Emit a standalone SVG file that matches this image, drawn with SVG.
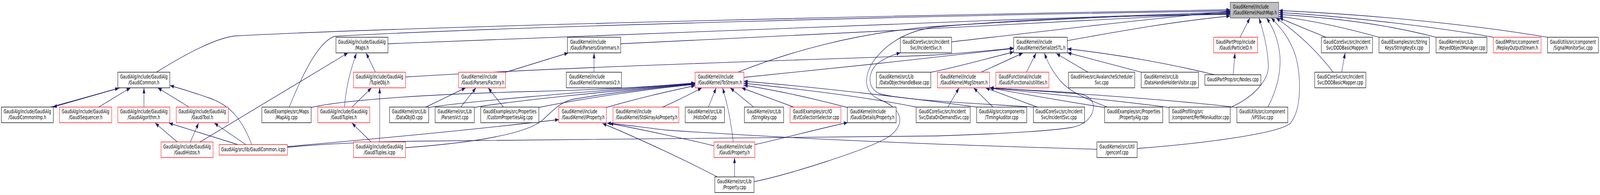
<svg xmlns="http://www.w3.org/2000/svg" width="6001" height="499" viewBox="0 0 6001 499" preserveAspectRatio="none" style="width:100vw;height:100vh;display:block">
<defs>
<style>
.n rect{fill:#fff;stroke:#000;stroke-width:1.33}
.n.r rect{stroke:#f00}
.n.root rect{fill:#bfbfbf;stroke:#404040}
.n text{font-family:"DejaVu Sans","Liberation Sans",sans-serif;font-size:13.33px;fill:#000}
.n.c text{text-anchor:middle}
.e path{fill:none;stroke:#191970;stroke-width:1.33;marker-end:url(#a)}
</style>
<marker id="a" markerUnits="userSpaceOnUse" markerWidth="16" markerHeight="12" refX="14" refY="5" orient="auto" overflow="visible">
<path d="M0,0 L14,5 L0,10 z" fill="#191970"/>
</marker>
</defs>
<rect width="6001" height="499" fill="#fff"/>
<g id="edges" class="e">
<path d="M190,274 L446,225.5"/>
<path d="M451,224.67 L199,274"/>
<path d="M370,274 L489,225"/>
<path d="M540,274 L540,224.7"/>
<path d="M709,274 L592,225"/>
<path d="M587,184.67 C720,128 820,97 880,92 C1600,66 3600,36 4614,25"/>
<path d="M1085,274 C1140,180 1200,105 1255,93 C1900,68 3600,38 4614,28"/>
<path d="M1455,112 C2200,95 3500,55 4614,31"/>
<path d="M665,363.33 L582,315"/>
<path d="M714,363.33 L745,315"/>
<path d="M750,363.33 L1305,135.5"/>
<path d="M944,370 C905,300 860,270 790,252 C740,240 690,229 638,219"/>
<path d="M892,370 L634,315"/>
<path d="M922,370 L804,315"/>
<path d="M1078,375 C1500,350 1800,330 2096,306"/>
<path d="M1292,274 C1297,225 1312,185 1337,136"/>
<path d="M1320,274 L1393,225"/>
<path d="M1408,184.67 L1373,135.5"/>
<path d="M1392,363.33 L1320,315"/>
<path d="M1424,363.33 L1424,224.67"/>
<path d="M1078,377 C1250,366 1450,362 1600,361 C2500,360 3100,355 3500,348 C3800,342 3960,333 4020,326 C4085,318 4110,285 4098,262 C4085,243 4050,238 4000,236 C3900,232 3800,228 3713,225"/>
<path d="M1521,378 C1760,366 1960,345 2030,310 C2068,288 2095,262 2150,254 C2300,236 2460,224 2607,215"/>
<path d="M1167,275 C1300,254 1650,240 2000,234 C2300,229 2480,220 2607,212"/>
<path d="M1597,274 L1746,225"/>
<path d="M1608,275 C1800,255 2300,230 2607,213.5"/>
<path d="M1728,274 L1785,225"/>
<path d="M1779,275 C1900,260 2300,232 2607,214.5"/>
<path d="M1888,274 L1831,225"/>
<path d="M2021,275 C2200,250 2450,226 2607,216"/>
<path d="M1896,185 L2131,135.5"/>
<path d="M2228,184.67 L2228,135.33"/>
<path d="M2328,112 C3000,96 4000,50 4614,33"/>
<path d="M1521,197 C2200,168 3200,150 3500,141 C3650,134 3730,128 3802,123"/>
<path d="M2274,275 C2400,250 2500,235 2607,219"/>
<path d="M2485,274 C2540,258 2590,240 2632,225"/>
<path d="M2657,274 L2686,225"/>
<path d="M2750,363.33 C2742,310 2728,265 2710,225"/>
<path d="M2827,274 L2739,225"/>
<path d="M2977,274 L2782,225"/>
<path d="M3178,275 C3050,252 2920,232 2790,218"/>
<path d="M3436,274 C3250,248 3000,228 2790,213"/>
<path d="M3663,274 C3450,254 3050,222 2790,208"/>
<path d="M2768,184.67 C2950,135 3200,85 3500,68 C3900,50 4300,38 4614,35"/>
<path d="M2790,198 C3100,178 3500,147 3802,124"/>
<path d="M3491,185 C3600,170 3700,150 3802,133"/>
<path d="M3680,184.67 L3836,136"/>
<path d="M3850,184.67 L3886,136"/>
<path d="M4153,274 C4080,255 4010,235 3975,205 C3945,180 3930,160 3917,136"/>
<path d="M4080,184.67 L3962,137"/>
<path d="M4280,184.67 L4004,135"/>
<path d="M4555,191.33 C4400,165 4200,140 4004,125"/>
<path d="M4003,104 C4200,80 4400,55 4614,41"/>
<path d="M3569,107 C3800,90 4200,55 4614,29"/>
<path d="M3876,274 C3700,266 3400,258 3300,240 C3250,226 3255,185 3290,163 C3320,148 3350,140 3377,135"/>
<path d="M2828,465 C2950,448 3250,385 3333,350 C3400,318 3385,278 3300,255 C3235,237 3238,190 3283,150 C3330,110 3400,80 3500,70 C3800,50 4200,40 4614,37"/>
<path d="M2755,452.67 L2755,403.33"/>
<path d="M2690,452.67 C2600,420 2400,355 2260,316"/>
<path d="M2678,373 C2600,360 2400,330 2286,316"/>
<path d="M2831,370 C2950,352 3050,333 3179,313.5"/>
<path d="M4114,382 C3500,370 3000,356 2500,333 C2400,325 2330,318 2277,315"/>
<path d="M4265,380 C4500,368 4800,342 4840,315 C4882,280 4880,200 4862,150 C4842,100 4800,68 4768,46"/>
<path d="M3555,274 L3597,225"/>
<path d="M3724,274 L3652,225"/>
<path d="M3890,274 L3697,225"/>
<path d="M4143,275 C4000,260 3850,242 3712,225"/>
<path d="M4385,275 C4200,258 3900,238 3712,225"/>
<path d="M4639,275 C4400,255 4000,238 3712,224.7"/>
<path d="M4614,275 C4700,250 4760,205 4757,167 C4754,120 4738,80 4722,46"/>
<path d="M4755,274 C4790,230 4806,180 4800,140 C4794,100 4775,70 4750,46"/>
<path d="M4651,95.33 L4688,46"/>
<path d="M4625,191.33 L4632,135.33"/>
<path d="M5000,184.67 C4950,140 4880,90 4786,46"/>
<path d="M5032,184.67 L5045,135.33"/>
<path d="M4973,95.33 L4798,46"/>
<path d="M5172,95.33 C5050,72 4920,52 4797,42"/>
<path d="M5386,95.33 C5200,62 5000,45 4797,37"/>
<path d="M5601,95.33 C5400,70 5050,42 4797,32"/>
<path d="M5804,95.33 C5500,60 5100,36 4797,27"/>
</g>
<g id="n_hashmap" class="n root"><rect x="4614" y="6" width="182" height="40"/><text x="4624.7" y="22.4">GaudiKernel/include</text><text x="4624.7" y="37.4">/GaudiKernel/HashMap.h</text></g>
<g id="n_maps" class="n c"><rect x="1260" y="95.33" width="195" height="40"/><text x="1357.5" y="111.7">GaudiAlg/include/GaudiAlg</text><text x="1357.5" y="126.7">/Maps.h</text></g>
<g id="n_grammars" class="n"><rect x="2128" y="95.33" width="200" height="40"/><text x="2138.7" y="111.7">GaudiKernel/include</text><text x="2138.7" y="126.7">/Gaudi/Parsers/Grammars.h</text></g>
<g id="n_incsvch" class="n c"><rect x="3377" y="95.33" width="192" height="40"/><text x="3473" y="111.7">GaudiCoreSvc/src/Incident</text><text x="3473" y="126.7">Svc/IncidentSvc.h</text></g>
<g id="n_serial" class="n"><rect x="3802" y="95.33" width="201" height="40"/><text x="3812.7" y="111.7">GaudiKernel/include</text><text x="3812.7" y="126.7">/GaudiKernel/SerializeSTL.h</text></g>
<g id="n_pid" class="n c r"><rect x="4552" y="95.33" width="165" height="40"/><text x="4634.5" y="111.7">GaudiPartProp/include</text><text x="4634.5" y="126.7">/Gaudi/ParticleID.h</text></g>
<g id="n_dodh" class="n c"><rect x="4956" y="95.33" width="192" height="40"/><text x="5052" y="111.7">GaudiCoreSvc/src/Incident</text><text x="5052" y="126.7">Svc/DODBasicMapper.h</text></g>
<g id="n_skex" class="n c"><rect x="5172" y="95.33" width="189" height="40"/><text x="5266.5" y="111.7">GaudiExamples/src/String</text><text x="5266.5" y="126.7">Keys/StringKeyEx.cpp</text></g>
<g id="n_kom" class="n"><rect x="5386" y="95.33" width="191" height="40"/><text x="5396.7" y="111.7">GaudiKernel/src/Lib</text><text x="5396.7" y="126.7">/KeyedObjectManager.cpp</text></g>
<g id="n_replay" class="n c r"><rect x="5601" y="95.33" width="179" height="40"/><text x="5690.5" y="111.7">GaudiMP/src/component</text><text x="5690.5" y="126.7">/ReplayOutputStream.h</text></g>
<g id="n_signal" class="n c"><rect x="5804" y="95.33" width="191" height="40"/><text x="5899.5" y="111.7">GaudiUtils/src/component</text><text x="5899.5" y="126.7">/SignalMonitorSvc.cpp</text></g>
<g id="n_gc" class="n c"><rect x="442" y="184.67" width="195" height="40"/><text x="539.5" y="201.1">GaudiAlg/include/GaudiAlg</text><text x="539.5" y="216.1">/GaudiCommon.h</text></g>
<g id="n_tupleobj" class="n c r"><rect x="1326" y="184.67" width="195" height="40"/><text x="1423.5" y="201.1">GaudiAlg/include/GaudiAlg</text><text x="1423.5" y="216.1">/TupleObj.h</text></g>
<g id="n_factory" class="n r"><rect x="1720" y="184.67" width="176" height="40"/><text x="1730.7" y="201.1">GaudiKernel/include</text><text x="1730.7" y="216.1">/Gaudi/Parsers/Factory.h</text></g>
<g id="n_gv2" class="n"><rect x="2124" y="184.67" width="207" height="40"/><text x="2134.7" y="201.1">GaudiKernel/include</text><text x="2134.7" y="216.1">/GaudiKernel/GrammarsV2.h</text></g>
<g id="n_tostream" class="n r"><rect x="2607" y="184.67" width="183" height="40"/><text x="2617.7" y="201.1">GaudiKernel/include</text><text x="2617.7" y="216.1">/GaudiKernel/ToStream.h</text></g>
<g id="n_dohb" class="n"><rect x="3287" y="184.67" width="204" height="40"/><text x="3297.7" y="201.1">GaudiKernel/src/Lib</text><text x="3297.7" y="216.1">/DataObjectHandleBase.cpp</text></g>
<g id="n_msg" class="n r"><rect x="3516" y="184.67" width="195" height="40"/><text x="3526.7" y="201.1">GaudiKernel/include</text><text x="3526.7" y="216.1">/GaudiKernel/MsgStream.h</text></g>
<g id="n_util" class="n r"><rect x="3735" y="184.67" width="199" height="40"/><text x="3745.7" y="201.1">GaudiFunctional/include</text><text x="3745.7" y="216.1">/Gaudi/Functional/utilities.h</text></g>
<g id="n_aval" class="n c"><rect x="4008" y="184.67" width="248" height="40"/><text x="4132" y="201.1">GaudiHive/src/AvalancheScheduler</text><text x="4132" y="216.1">Svc.cpp</text></g>
<g id="n_dhhv" class="n"><rect x="4280" y="184.67" width="215" height="40"/><text x="4290.7" y="201.1">GaudiKernel/src/Lib</text><text x="4290.7" y="216.1">/DataHandleHolderVisitor.cpp</text></g>
<g id="n_nodes" class="n c"><rect x="4519" y="191.33" width="210" height="26.67"/><text x="4624" y="208.3">GaudiPartProp/src/Nodes.cpp</text></g>
<g id="n_dodcpp" class="n c"><rect x="4931" y="184.67" width="192" height="40"/><text x="5027" y="201.1">GaudiCoreSvc/src/Incident</text><text x="5027" y="216.1">Svc/DODBasicMapper.cpp</text></g>
<g id="n_gcimp" class="n c"><rect x="5" y="274" width="195" height="40"/><text x="102.5" y="290.4">GaudiAlg/include/GaudiAlg</text><text x="102.5" y="305.4">/GaudiCommonImp.h</text></g>
<g id="n_gseq" class="n c r"><rect x="223" y="274" width="196" height="40"/><text x="321" y="290.4">GaudiAlg/include/GaudiAlg</text><text x="321" y="305.4">/GaudiSequencer.h</text></g>
<g id="n_galg" class="n c r"><rect x="442" y="274" width="195" height="40"/><text x="539.5" y="290.4">GaudiAlg/include/GaudiAlg</text><text x="539.5" y="305.4">/GaudiAlgorithm.h</text></g>
<g id="n_gtool" class="n c r"><rect x="661" y="274" width="195" height="40"/><text x="758.5" y="290.4">GaudiAlg/include/GaudiAlg</text><text x="758.5" y="305.4">/GaudiTool.h</text></g>
<g id="n_mapalg" class="n c"><rect x="982" y="274" width="185" height="40"/><text x="1074.5" y="290.4">GaudiExamples/src/Maps</text><text x="1074.5" y="305.4">/MapAlg.cpp</text></g>
<g id="n_gtuples" class="n c r"><rect x="1192" y="274" width="195" height="40"/><text x="1289.5" y="290.4">GaudiAlg/include/GaudiAlg</text><text x="1289.5" y="305.4">/GaudiTuples.h</text></g>
<g id="n_doid" class="n c"><rect x="1461" y="274" width="147" height="40"/><text x="1534.5" y="290.4">GaudiKernel/src/Lib</text><text x="1534.5" y="305.4">/DataObjID.cpp</text></g>
<g id="n_pvct" class="n c"><rect x="1632" y="274" width="147" height="40"/><text x="1705.5" y="290.4">GaudiKernel/src/Lib</text><text x="1705.5" y="305.4">/ParsersVct.cpp</text></g>
<g id="n_cpa" class="n c"><rect x="1803" y="274" width="218" height="40"/><text x="1912" y="290.4">GaudiExamples/src/Properties</text><text x="1912" y="305.4">/CustomPropertiesAlg.cpp</text></g>
<g id="n_iprop" class="n r"><rect x="2096" y="274" width="178" height="40"/><text x="2106.7" y="290.4">GaudiKernel/include</text><text x="2106.7" y="305.4">/GaudiKernel/IProperty.h</text></g>
<g id="n_stdarr" class="n r"><rect x="2299" y="274" width="247" height="40"/><text x="2309.7" y="290.4">GaudiKernel/include</text><text x="2309.7" y="305.4">/GaudiKernel/StdArrayAsProperty.h</text></g>
<g id="n_histodef" class="n c"><rect x="2570" y="274" width="147" height="40"/><text x="2643.5" y="290.4">GaudiKernel/src/Lib</text><text x="2643.5" y="305.4">/HistoDef.cpp</text></g>
<g id="n_skey" class="n c"><rect x="2792" y="274" width="147" height="40"/><text x="2865.5" y="290.4">GaudiKernel/src/Lib</text><text x="2865.5" y="305.4">/StringKey.cpp</text></g>
<g id="n_evtcol" class="n r"><rect x="2963" y="274" width="191" height="40"/><text x="2973.7" y="290.4">GaudiExamples/src/IO</text><text x="2973.7" y="305.4">/EvtCollectionSelector.cpp</text></g>
<g id="n_dprop" class="n"><rect x="3178" y="274" width="183" height="40"/><text x="3188.7" y="290.4">GaudiKernel/include</text><text x="3188.7" y="305.4">/Gaudi/Details/Property.h</text></g>
<g id="n_dods" class="n"><rect x="3436" y="274" width="203" height="40"/><text x="3446.7" y="290.4">GaudiCoreSvc/src/Incident</text><text x="3446.7" y="305.4">Svc/DataOnDemandSvc.cpp</text></g>
<g id="n_timing" class="n c"><rect x="3663" y="274" width="188" height="40"/><text x="3757" y="290.4">GaudiAlg/src/components</text><text x="3757" y="305.4">/TimingAuditor.cpp</text></g>
<g id="n_incsvccpp" class="n c"><rect x="3876" y="274" width="192" height="40"/><text x="3972" y="290.4">GaudiCoreSvc/src/Incident</text><text x="3972" y="305.4">Svc/IncidentSvc.cpp</text></g>
<g id="n_propalg" class="n c"><rect x="4143" y="274" width="218" height="40"/><text x="4252" y="290.4">GaudiExamples/src/Properties</text><text x="4252" y="305.4">/PropertyAlg.cpp</text></g>
<g id="n_perfmon" class="n"><rect x="4385" y="274" width="229" height="40"/><text x="4395.7" y="290.4">GaudiProfiling/src</text><text x="4395.7" y="305.4">/component/PerfMonAuditor.cpp</text></g>
<g id="n_vfs" class="n c"><rect x="4639" y="274" width="191" height="40"/><text x="4734.5" y="290.4">GaudiUtils/src/component</text><text x="4734.5" y="305.4">/VFSSvc.cpp</text></g>
<g id="n_ghistos" class="n c r"><rect x="604" y="363.33" width="195" height="40"/><text x="701.5" y="379.7">GaudiAlg/include/GaudiAlg</text><text x="701.5" y="394.7">/GaudiHistos.h</text></g>
<g id="n_gcicpp" class="n c r"><rect x="822" y="370" width="256" height="26.67"/><text x="950" y="387">GaudiAlg/src/lib/GaudiCommon.icpp</text></g>
<g id="n_gticpp" class="n c r"><rect x="1326" y="363.33" width="195" height="40"/><text x="1423.5" y="379.7">GaudiAlg/include/GaudiAlg</text><text x="1423.5" y="394.7">/GaudiTuples.icpp</text></g>
<g id="n_gprop" class="n c r"><rect x="2678" y="363.33" width="153" height="40"/><text x="2754.5" y="379.7">GaudiKernel/include</text><text x="2754.5" y="394.7">/Gaudi/Property.h</text></g>
<g id="n_genconf" class="n c"><rect x="4114" y="363.33" width="151" height="40"/><text x="4189.5" y="379.7">GaudiKernel/src/Util</text><text x="4189.5" y="394.7">/genconf.cpp</text></g>
<g id="n_propcpp" class="n c"><rect x="2681" y="452.67" width="147" height="40"/><text x="2754.5" y="469.1">GaudiKernel/src/Lib</text><text x="2754.5" y="484.1">/Property.cpp</text></g>
</svg>
